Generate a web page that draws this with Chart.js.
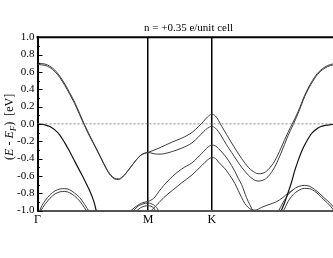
<!DOCTYPE html>
<html>
<head>
<meta charset="utf-8">
<script src="https://cdn.jsdelivr.net/npm/chart.js@4.4.1/dist/chart.umd.min.js"></script>
<style>
  html, body { margin: 0; padding: 0; background: #fff; overflow: hidden; }
  #wrap { width: 333px; height: 258px; overflow: hidden; }
  canvas { display: block; }
</style>
</head>
<body>
<div id="wrap"><canvas id="bands" width="345" height="258"></canvas></div>
<script>
// k-path positions (Γ-M-K-Γ) and labels
const kTicks = [0, 1, 1.577, 2.732];
const kLabels = ['Γ', 'M', 'K', 'Γ'];
const yMin = -1.0, yMax = 1.0, yStep = 0.2;
const chartTitle = 'n = +0.35 e/unit cell';
const yTitleParts = [
  { t: '(', it: false }, { t: 'E', it: true }, { t: ' - ', it: false },
  { t: 'E', it: true }, { t: 'F', it: true, sub: true }, { t: ')', it: false },
  { t: '  [eV]', it: false }
];

const fermiLevel = [[0, 0], [2.732, 0]];

// bands as [k, E] pairs
const topBandA = [[0,0.70],[0.067,0.69],[0.112,0.665],[0.157,0.62],[0.202,0.55],[0.247,0.46],[0.291,0.36],[0.336,0.25],[0.381,0.12],[0.426,-0.01],[0.471,-0.13],[0.531,-0.28],[0.574,-0.39],[0.621,-0.51],[0.659,-0.585],[0.695,-0.625],[0.731,-0.635],[0.770,-0.61],[0.830,-0.52],[0.890,-0.42],[0.937,-0.36],[1.0,-0.33],
  [1.099,-0.28],[1.218,-0.21],[1.305,-0.165],[1.397,-0.10],[1.457,-0.03],[1.502,0.03],[1.538,0.08],[1.577,0.11],
  [1.610,0.09],[1.637,0.04],[1.667,-0.03],[1.709,-0.12],[1.756,-0.22],[1.846,-0.40],[1.906,-0.50],[1.951,-0.55],[1.996,-0.575],[2.040,-0.57],[2.085,-0.53],[2.145,-0.43],[2.202,-0.28],[2.265,-0.10],[2.312,0.02],[2.357,0.14],[2.417,0.33],[2.473,0.47],[2.534,0.585],[2.592,0.65],[2.650,0.685],[2.732,0.70]];
const topBandB = [[0,0.685],[0.067,0.675],[0.112,0.65],[0.157,0.603],[0.202,0.533],[0.247,0.443],[0.291,0.343],[0.336,0.233],[0.381,0.105],[0.426,-0.023],[0.471,-0.142],[0.531,-0.29],[0.574,-0.398],[0.621,-0.516],[0.659,-0.594],[0.695,-0.634],[0.731,-0.644],[0.770,-0.614],[0.830,-0.523],[0.890,-0.422],[0.937,-0.36],[1.0,-0.33],
  [1.054,-0.345],[1.099,-0.35],[1.143,-0.345],[1.218,-0.32],[1.305,-0.28],[1.397,-0.22],[1.457,-0.15],[1.502,-0.09],[1.538,-0.05],[1.577,-0.03],
  [1.610,-0.05],[1.637,-0.09],[1.667,-0.15],[1.709,-0.24],[1.756,-0.33],[1.846,-0.50],[1.906,-0.59],[1.951,-0.64],[1.996,-0.66],[2.040,-0.65],[2.085,-0.61],[2.145,-0.50],[2.202,-0.34],[2.265,-0.14],[2.312,-0.01],[2.357,0.12],[2.417,0.315],[2.473,0.455],[2.534,0.57],[2.592,0.637],[2.650,0.672],[2.732,0.685]];
const gammaBandLeft = [[0,0.0],[0.03,-0.004],[0.067,-0.012],[0.112,-0.03],[0.157,-0.07],[0.202,-0.13],[0.247,-0.22],[0.291,-0.32],[0.336,-0.43],[0.381,-0.54],[0.426,-0.65],[0.471,-0.77],[0.511,-0.90],[0.535,-1.02],[0.55,-1.08]];
const gammaBandRight = [[2.185,-1.08],[2.2,-1.02],[2.235,-0.91],[2.265,-0.80],[2.296,-0.68],[2.327,-0.54],[2.356,-0.43],[2.385,-0.33],[2.414,-0.25],[2.444,-0.18],[2.474,-0.12],[2.504,-0.08],[2.534,-0.05],[2.563,-0.03],[2.6,-0.018],[2.65,-0.008],[2.732,0.0]];
const lowArcL1 = [[0,-1.1],[0.03,-0.97],[0.067,-0.89],[0.112,-0.82],[0.157,-0.775],[0.202,-0.752],[0.247,-0.748],[0.291,-0.76],[0.336,-0.80],[0.381,-0.85],[0.426,-0.93],[0.471,-1.02]];
const lowArcL2 = [[0,-1.14],[0.03,-1.01],[0.067,-0.93],[0.112,-0.86],[0.157,-0.81],[0.202,-0.785],[0.247,-0.78],[0.291,-0.795],[0.336,-0.835],[0.381,-0.89],[0.426,-0.97],[0.453,-1.02]];
const lowArcR1 = [[2.175,-1.02],[2.22,-0.91],[2.265,-0.82],[2.312,-0.76],[2.357,-0.725],[2.414,-0.71],[2.46,-0.72],[2.52,-0.77],[2.59,-0.85],[2.65,-0.92],[2.70,-1.0],[2.732,-1.06]];
const lowArcR2 = [[2.22,-1.02],[2.265,-0.90],[2.31,-0.82],[2.36,-0.77],[2.414,-0.745],[2.46,-0.748],[2.52,-0.79],[2.59,-0.875],[2.65,-0.95],[2.69,-1.02]];
const kBandA = [[0.830,-1.02],[0.874,-0.97],[0.919,-0.93],[0.964,-0.905],[1.0,-0.895],[1.05,-0.86],[1.099,-0.78],[1.143,-0.71],[1.218,-0.61],[1.305,-0.52],[1.397,-0.45],[1.487,-0.34],[1.54,-0.27],[1.577,-0.246],[1.61,-0.255],[1.637,-0.285],[1.697,-0.37],[1.726,-0.42],[1.786,-0.55],[1.816,-0.63],[1.846,-0.70],[1.89,-0.85],[1.951,-1.01],[1.98,-1.08]];
const kBandB = [[1.0,-1.06],[1.038,-0.99],[1.099,-0.91],[1.143,-0.85],[1.218,-0.77],[1.305,-0.68],[1.397,-0.59],[1.487,-0.48],[1.54,-0.415],[1.577,-0.39],[1.61,-0.40],[1.637,-0.44],[1.697,-0.52],[1.726,-0.57],[1.786,-0.69],[1.816,-0.77],[1.876,-0.92],[1.906,-0.965],[1.936,-0.99],[1.97,-0.995],[2.025,-0.965],[2.085,-0.935],[2.16,-0.90],[2.22,-0.85],[2.265,-0.80],[2.31,-0.765]];
const mArcA = [[0.857,-1.02],[0.9,-0.96],[0.95,-0.925],[1.0,-0.915],[1.05,-0.935],[1.085,-0.98],[1.1,-1.02]];
const mArcB = [[0.883,-1.02],[0.93,-0.97],[1.0,-0.945],[1.05,-0.97],[1.075,-1.02]];

const serif = "'Liberation Serif', 'Times New Roman', serif";
const toXY = arr => arr.map(p => ({ x: p[0], y: p[1] }));

function bandSet(arr, color, width) {
  return {
    data: toXY(arr),
    borderColor: color || '#3c3c3c',
    borderWidth: width || 1,
    pointRadius: 0,
    cubicInterpolationMode: 'monotone',
    fill: false
  };
}

// frame, inward y ticks and y-axis title with subscript
const decorations = {
  id: 'decorations',
  afterDraw(chart) {
    const { ctx, chartArea: a, scales } = chart;
    const ys = scales.y;
    ctx.save();
    ctx.strokeStyle = '#000';
    ctx.lineWidth = 2;
    ctx.beginPath();
    ctx.moveTo(a.left - 1, a.top);
    ctx.lineTo(a.right, a.top);
    ctx.stroke();

    ctx.lineWidth = 1;
    for (let i = -10; i <= 10; i++) {
      const y = Math.round(ys.getPixelForValue(i / 10)) + 0.5;
      const len = i % 2 === 0 ? 5 : 2.5;
      ctx.beginPath();
      ctx.moveTo(a.left, y);
      ctx.lineTo(a.left + len, y);
      ctx.stroke();
    }

    const fs = 12;
    const fontOf = p => (p.it ? 'italic ' : '') + (p.sub ? fs - 3 : fs) + 'px ' + serif;
    let total = 0;
    yTitleParts.forEach(p => { ctx.font = fontOf(p); p.w = ctx.measureText(p.t).width; total += p.w; });
    ctx.translate(12.5, (a.top + a.bottom) / 2 + 3);
    ctx.rotate(-Math.PI / 2);
    ctx.fillStyle = '#000';
    ctx.textBaseline = 'alphabetic';
    let x = -total / 2;
    yTitleParts.forEach(p => {
      ctx.font = fontOf(p);
      ctx.fillText(p.t, x, p.sub ? 3 : 0);
      x += p.w;
    });
    ctx.restore();
  }
};

new Chart(document.getElementById('bands'), {
  type: 'line',
  data: {
    datasets: [
      { data: toXY(fermiLevel), borderColor: '#8a8a8a', borderWidth: 1, borderDash: [2, 2], pointRadius: 0 },
      bandSet(topBandA), bandSet(topBandB),
      bandSet(gammaBandLeft, '#111', 1.2), bandSet(gammaBandRight, '#111', 1.2),
      bandSet(lowArcL1), bandSet(lowArcL2), bandSet(lowArcR1), bandSet(lowArcR2),
      bandSet(kBandA), bandSet(kBandB), bandSet(mArcA), bandSet(mArcB)
    ]
  },
  options: {
    responsive: false,
    animation: false,
    devicePixelRatio: 1,
    layout: { padding: { right: 3 } },
    plugins: {
      legend: { display: false },
      tooltip: { enabled: false },
      title: {
        display: true,
        text: chartTitle,
        fullSize: false,
        color: '#000',
        font: { family: serif, size: 11, weight: 'normal' },
        padding: { top: 22, bottom: 2 }
      }
    },
    scales: {
      x: {
        type: 'linear',
        min: kTicks[0],
        max: kTicks[kTicks.length - 1],
        afterBuildTicks: s => { s.ticks = kTicks.map(v => ({ value: v })); },
        afterFit: s => { s.height = 47.5; },
        ticks: {
          autoSkip: false,
          maxRotation: 0,
          padding: 2,
          color: '#000',
          font: { family: serif, size: 12 },
          callback: (v, i) => kLabels[i]
        },
        grid: {
          drawTicks: false,
          lineWidth: 1.5,
          color: c => (c.index === 1 || c.index === 2) ? '#000' : 'rgba(0,0,0,0)'
        },
        border: { display: true, color: '#555', width: 2 }
      },
      y: {
        min: yMin,
        max: yMax,
        afterFit: s => { s.width = 37.5; },
        ticks: {
          stepSize: yStep,
          padding: 3,
          color: '#000',
          font: { family: serif, size: 11 },
          callback: v => Math.abs(v) < 1e-9 ? '0.0' : v.toFixed(1)
        },
        grid: { display: false, drawTicks: false },
        border: { display: true, color: '#000', width: 2 }
      }
    }
  },
  plugins: [decorations]
});
</script>
</body>
</html>
